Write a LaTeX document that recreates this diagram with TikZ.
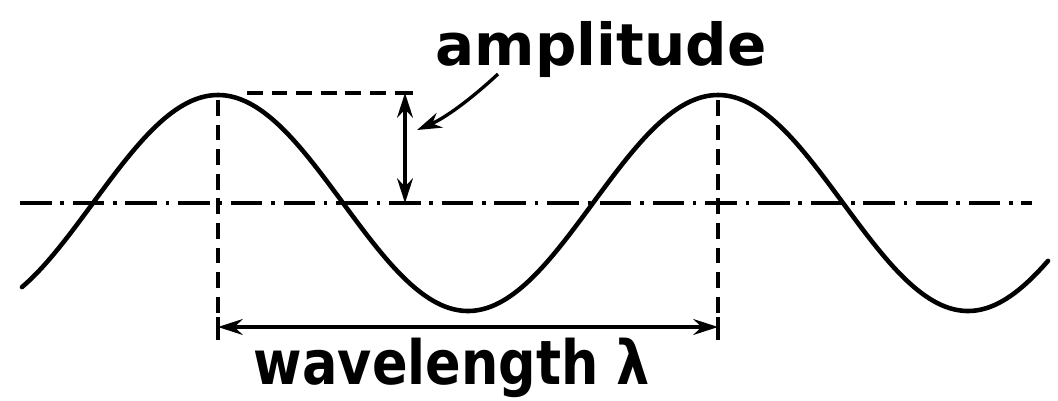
\documentclass[tikz,border=0pt]{standalone}
\usepackage{fontspec}
\setmainfont{DejaVu Sans}
\usetikzlibrary{arrows.meta}
\tikzset{
  wave/.style={line width=2.6pt, line cap=round, line join=round},
  midline/.style={line width=2pt, dash pattern=on 18pt off 5pt on 2pt off 5pt},
  guide/.style={line width=2.2pt, dash pattern=on 9pt off 5pt},
  dim/.style={line width=1.9pt, {Stealth[length=14pt,width=9pt]}-{Stealth[length=14pt,width=9pt]}},
  bar/.style={line width=2.4pt},
  leader/.style={line width=1.9pt, -{Stealth[length=14pt,width=9pt]}},
  lbl/.style={font=\bfseries, inner sep=0pt}
}
\begin{document}
\begin{tikzpicture}[x=0.02cm, y=-0.02cm]
\useasboundingbox (0,0) rectangle (1058,400);
% key points
\coordinate (peakA) at (218,93);
\coordinate (peakB) at (718,93);
\coordinate (midL) at (20,203);
\coordinate (midR) at (1032,203);
\coordinate (ampTop) at (405,93);
\coordinate (ampBot) at (405,203);
\coordinate (wlA) at (218,327);
\coordinate (wlB) at (718,327);
% centre line
\draw[midline] (midL) -- (midR);
% wave
\draw[wave] plot[domain=22:1048, samples=220, smooth] (\x, {203 - 108*cos((\x-218)*0.72)});
% vertical guides
\draw[guide] (218,100) -- (218,318);
\draw[guide] (718,100) -- (718,318);
% top horizontal guide
\draw[guide] (247,93) -- (ampTop);
% amplitude dimension
\draw[dim] (ampTop) -- (ampBot);
\draw[bar] (397,93) -- (413,93);
% wavelength dimension
\draw[dim] (wlA) -- (wlB);
\draw[bar] (218,317) -- (218,340);
\draw[bar] (718,317) -- (718,340);
% labels
\node[lbl, anchor=base, font=\bfseries\fontsize{33}{33}\selectfont] (amp) at (601,65) {amplitude};
\node[lbl, anchor=base, font=\bfseries\fontsize{29}{29}\selectfont] (wl) at (452,384) {\scalebox{1.03}[1.2]{wavelength λ}};
% leader
\draw[leader] (498,74) .. controls (470,100) and (445,118) .. (417,130);
\end{tikzpicture}
\end{document}
